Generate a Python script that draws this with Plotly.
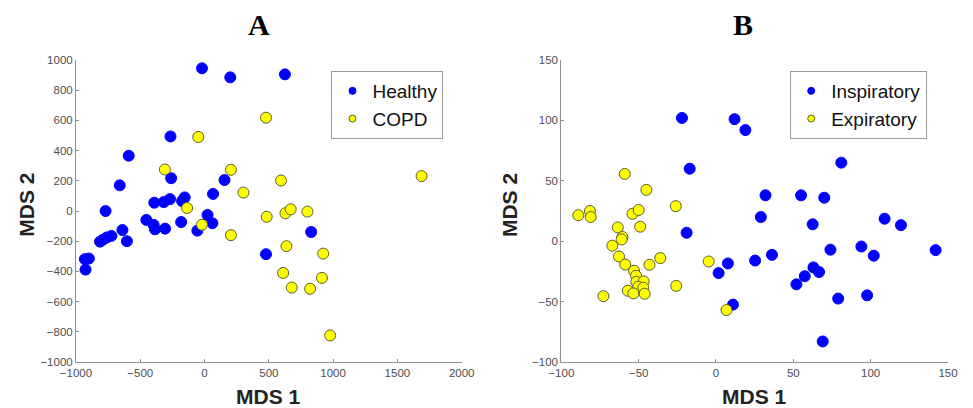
import plotly.graph_objects as go

# ---------------- Panel A data (MDS of Healthy vs COPD) ----------------
healthy_x = [-20, 200, 625, -265, -590, -660, -260, 155, 66, -770, -391, -317, -269,
             -175, -155, -453, -396, -386, -307, -182, -56, 23, 61, -639, -604,
             -813, -790, -760, -725, -931, -900, -926, 478, 829]
healthy_y = [945, 885, 905, 494, 366, 170, 217, 205, 113, 0, 55, 59, 79,
             66, 90, -59, -92, -121, -117, -73, -130, -26, -81, -126, -200,
             -203, -190, -175, -165, -319, -315, -388, -286, -139]

copd_x = [478, -49, -309, 205, 302, -136, -20, 205, 483, 1688, 595, 629, 670, 800,
          637, 923, 611, 678, 821, 913, 977]
copd_y = [618, 490, 275, 273, 122, 20, -91, -160, -38, 231, 202, -15, 11, -4,
          -233, -282, -410, -507, -515, -443, -824]

# ---------------- Panel B data (Inspiratory vs Expiratory) ----------------
insp_x = [-22, 12, 19, -17, -19, 81, 32, 55, 70, 29, 62.5, 109, 119.6, 1.7, 7.7,
          25.3, 36.2, 11, 74, 94, 102, 142, 52, 57.4, 63, 66.6, 79, 97.7, 69]
insp_y = [102, 101, 92, 60, 7, 65, 38, 38, 36, 20, 14, 18.6, 13.3, -26.4, -18.4,
          -16, -11.3, -52.5, -7, -4.4, -12, -7.4, -35.7, -29, -21.7, -25.5, -47.5, -44.8, -83]

exp_x = [-59, -45, -89, -81.5, -81, -54, -50, -49, -26, -63.5, -60.5, -61, -67, -62.7,
         -58.7, -43, -36, -4.7, -53, -51.7, -51.5, -46.8, -50.2, -47, -57, -53.4, -46.1,
         -72.8, -25.7, 6.8]
exp_y = [55.7, 42.5, 21.5, 25, 20, 22.7, 25.8, 12, 29, 11.4, 3.5, 1.5, -3.7, -12.7,
         -19.3, -19.5, -14, -16.8, -24.5, -28.6, -33.6, -33.3, -37.7, -38.5, -41, -43.2, -43.5,
         -45.5, -37, -57]

panel_titles = ["A", "B"]
axis_x_title = "MDS 1"
axis_y_title = "MDS 2"

BLUE = "#0000FF"
YELLOW = "#FFFF00"
YEDGE = "#5c5c2e"
AXIS_COL = "#8f8f8f"
TICK_COL = "#4d4d4d"

fig = go.Figure()

def add_series(x, y, name, color, edge, xa, ya, legend):
    fig.add_trace(go.Scatter(
        x=x, y=y, mode="markers", xaxis=xa, yaxis=ya, showlegend=False,
        marker=dict(size=11, color=color, line=dict(color=edge, width=1)),
        hoverinfo="x+y", name=name))
    # legend entry with a smaller symbol
    fig.add_trace(go.Scatter(
        x=[None], y=[None], mode="markers", xaxis=xa, yaxis=ya, name=name,
        legend=legend, showlegend=True,
        marker=dict(size=7, color=color, line=dict(color=edge, width=1))))

add_series(healthy_x, healthy_y, "Healthy", BLUE, BLUE, "x", "y", "legend")
add_series(copd_x, copd_y, "COPD", YELLOW, YEDGE, "x", "y", "legend")
add_series(insp_x, insp_y, "Inspiratory", BLUE, BLUE, "x2", "y2", "legend2")
add_series(exp_x, exp_y, "Expiratory", YELLOW, YEDGE, "x2", "y2", "legend2")

W, H = 973, 408
L, R, T, B = 76, 13, 60, 46
PW, PH = W - L - R, H - T - B

def px(X):
    return (X - L) / PW

def py(Y):
    return 1 - (Y - T) / PH

axis_common = dict(showline=True, linecolor=AXIS_COL, linewidth=1, mirror=False,
                   showgrid=False, zeroline=False, ticks="inside", ticklen=3,
                   tickcolor=AXIS_COL, tickwidth=1,
                   tickfont=dict(family="Liberation Sans, Arial", size=11.5, color=TICK_COL))

legend_font = dict(family="Liberation Sans, Arial", size=19, color="#111")

fig.update_layout(
    width=W, height=H,
    margin=dict(l=L, r=R, t=T, b=B),
    paper_bgcolor="white", plot_bgcolor="white",
    xaxis=dict(domain=[0, px(467)], range=[-1000, 2000], dtick=500, anchor="y", **axis_common),
    yaxis=dict(domain=[0, 1], range=[-1000, 1000], dtick=200, anchor="x", **axis_common),
    xaxis2=dict(domain=[px(568), 1], range=[-100, 150], dtick=50, anchor="y2", **axis_common),
    yaxis2=dict(domain=[0, 1], range=[-100, 150], dtick=50, anchor="x2", **axis_common),
    legend=dict(x=px(335), y=py(71), xanchor="left", yanchor="top",
                bgcolor="white", bordercolor="#9a9a9a", borderwidth=1,
                font=legend_font, itemwidth=30, tracegroupgap=0),
    legend2=dict(x=px(800), y=py(71), xanchor="left", yanchor="top",
                 bgcolor="white", bordercolor="#9a9a9a", borderwidth=1,
                 font=legend_font, itemwidth=30, tracegroupgap=0),
    showlegend=True,
)

title_font = dict(family="Liberation Serif, Times New Roman", size=30, color="black")
label_font = dict(family="Liberation Sans, Arial", size=21, color="#222")

annotations = [
    dict(text="<b>%s</b>" % panel_titles[0], x=px(262), y=py(25), font=title_font),
    dict(text="<b>%s</b>" % panel_titles[1], x=px(752), y=py(25), font=title_font),
    dict(text="<b>%s</b>" % axis_x_title, x=px(271), y=py(396), font=label_font),
    dict(text="<b>%s</b>" % axis_x_title, x=px(764), y=py(396), font=label_font),
    dict(text="<b>%s</b>" % axis_y_title, x=px(25), y=py(205), font=label_font, textangle=-90),
    dict(text="<b>%s</b>" % axis_y_title, x=px(515), y=py(205), font=label_font, textangle=-90),
]
for a in annotations:
    a.update(xref="paper", yref="paper", showarrow=False, xanchor="center", yanchor="middle")
fig.update_layout(annotations=annotations)

fig.write_html("out.html", config={"displayModeBar": False},
               post_script="document.body.style.margin='0';document.body.style.overflow='hidden';")
